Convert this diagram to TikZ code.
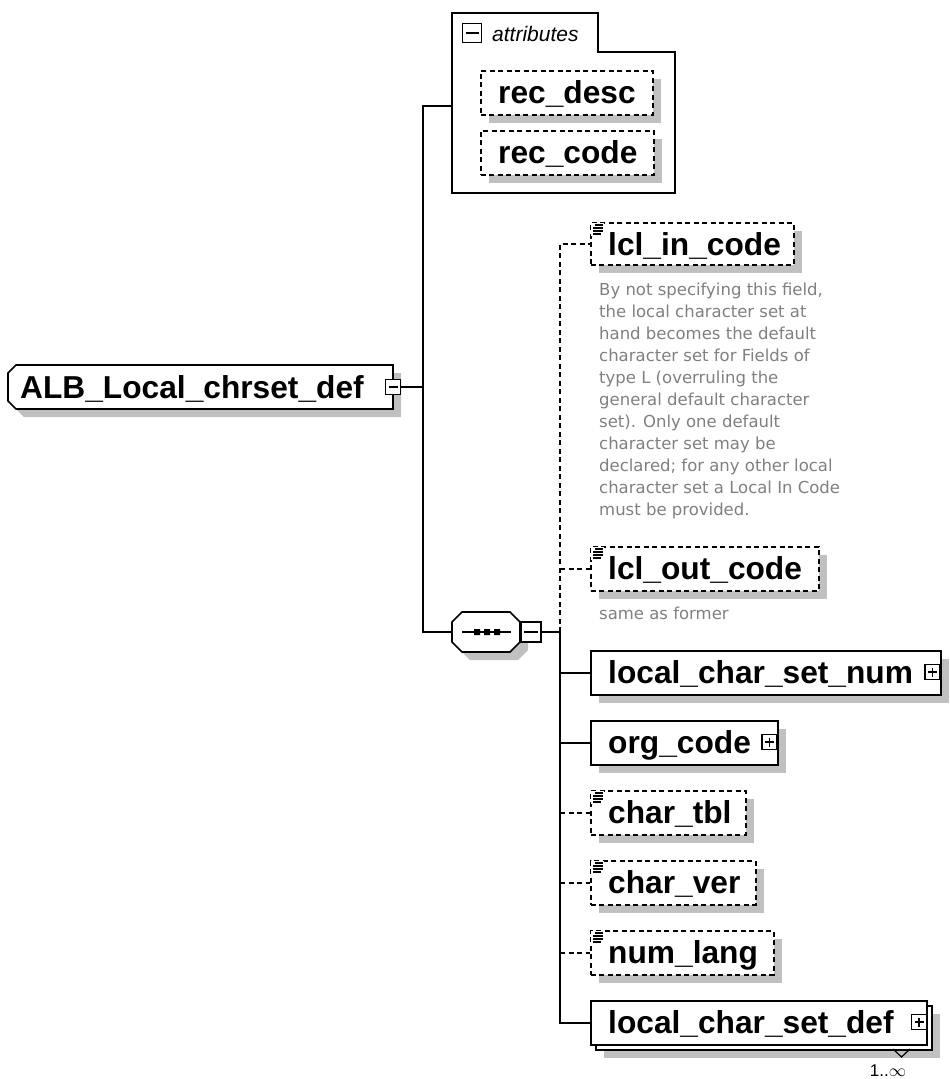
\documentclass[tikz,border=0pt]{standalone}
\usepackage{fontspec}
\setmainfont{Liberation Sans}
\newfontfamily\annfont{DejaVu Sans}
\definecolor{shadowgray}{RGB}{192,192,192}
\definecolor{anngray}{RGB}{128,128,128}
\usetikzlibrary{shadows}
\tikzset{
  conn/.style={line width=1.6pt},
  optconn/.style={line width=1.6pt, dash pattern=on 5pt off 3.5pt},
  elbox/.style={draw, line width=1.6pt, fill=white, rectangle, inner sep=0pt, anchor=north west,
     general shadow={shadow xshift=8pt, shadow yshift=-8pt, fill=shadowgray}},
  optbox/.style={elbox, dash pattern=on 5pt off 3.5pt},
  elname/.style={font=\fontsize{31.7}{32}\selectfont\bfseries, anchor=base west, inner sep=0pt},
  ann/.style={font=\annfont\fontsize{16.5}{22}\selectfont, text=anngray, anchor=north west, align=left, inner sep=0pt},
  pmbox/.style={draw, line width=1.3pt, fill=white, rectangle, minimum size=15pt, inner sep=0pt},
  minusbox/.style={pmbox, path picture={\draw[line width=1.3pt] ([xshift=3pt]path picture bounding box.west) -- ([xshift=-3pt]path picture bounding box.east);}},
  plusbox/.style={pmbox, path picture={\draw[line width=1.3pt] ([xshift=3pt]path picture bounding box.west) -- ([xshift=-3pt]path picture bounding box.east) ([yshift=-3pt]path picture bounding box.north) -- ([yshift=3pt]path picture bounding box.south);}},
  simpleicon/.pic={\fill[white] (0,0) rectangle (13,13);
     \draw[line width=1.3pt] (4,2)--(12,2) (2,5)--(12,5) (2,8)--(12,8) (2,11)--(10,11);},
}
\begin{document}
\begin{tikzpicture}[x=1pt,y=-1pt]
\useasboundingbox[fill=white] (0,0) rectangle (950,1079);

% ---------- root element ----------
\def\rootpath{(16,365) -- (393,365) -- (393,409) -- (16,409) -- (8,401) -- (8,373) -- cycle}
\fill[shadowgray, shift={(8,8)}] \rootpath;
\draw[conn, fill=white] \rootpath;
\node[elname] (root) at (20,398) {ALB\_Local\_chrset\_def};
\node[minusbox] (rootpm) at (393,387) {};

% ---------- attributes ----------
\draw[conn, fill=white] (452,13) -- (598,13) -- (598,52) -- (675,52) -- (675,193) -- (452,193) -- cycle;
\coordinate (attrw) at (452,106);
\node[minusbox, minimum size=19pt] (attrpm) at (472,33) {};
\node[font=\fontsize{21}{21}\selectfont\itshape, anchor=base west, inner sep=0pt] (attrt) at (492,41) {attributes};
\node[optbox, minimum width=172pt, minimum height=44pt] (rd) at (480,70) {};
\node[elname] (rdt) at (498,103) {rec\_desc};
\node[optbox, minimum width=173pt, minimum height=44pt] (rc) at (480,130) {};
\node[elname] (rct) at (498,163) {rec\_code};

% ---------- sequence ----------
\def\seqpath{(462,612) -- (510,612) -- (520,622) -- (520,642) -- (510,652) -- (462,652) -- (452,642) -- (452,622) -- cycle}
\fill[shadowgray, shift={(8,8)}] \seqpath;
\draw[conn, fill=white] \seqpath;
\coordinate (seqw) at (452,632);
\draw[line width=1.4pt] (462,632) -- (511,632);
\fill (474,629) rectangle (480,635) (484,629) rectangle (490,635) (494,629) rectangle (500,635);
\node[minusbox, minimum size=20pt] (seqpm) at (531,632) {};

% hub connectors from root
\coordinate (hub) at (423,387);
\draw[conn] (rootpm.east) -- (hub);
\draw[conn] (attrw) -| (hub) |- (seqw);

% ---------- children ----------
\node[optbox, minimum width=203pt, minimum height=42pt] (lin) at (590,222) {};
\node[elname] (lint) at (608,255) {lcl\_in\_code};
\pic at (591,223) {simpleicon};
\node[ann] (linann) at (599,283) {By not specifying this field,\\the local character set at\\hand becomes the default\\character set for Fields of\\type L (overruling the\\general default character\\set). Only one default\\character set may be\\declared; for any other local\\character set a Local In Code\\must be provided.};

\node[optbox, minimum width=228pt, minimum height=44pt] (lout) at (590,546) {};
\node[elname] (loutt) at (608,579) {lcl\_out\_code};
\pic at (591,547) {simpleicon};
\node[ann] (loutann) at (599,607) {same as former};

\node[elbox, minimum width=350pt, minimum height=44pt] (lcsn) at (590,650) {};
\node[elname] (lcsnt) at (608,683) {local\_char\_set\_num};
\node[plusbox] (lcsnpm) at (932.5,672) {};

\node[elbox, minimum width=187pt, minimum height=44pt] (org) at (590,720) {};
\node[elname] (orgt) at (608,753) {org\_code};
\node[plusbox] (orgpm) at (769.5,742) {};

\node[optbox, minimum width=155pt, minimum height=44pt] (ctbl) at (590,790) {};
\node[elname] (ctblt) at (608,823) {char\_tbl};
\pic at (591,791) {simpleicon};

\node[optbox, minimum width=165pt, minimum height=44pt] (cver) at (590,860) {};
\node[elname] (cvert) at (608,893) {char\_ver};
\pic at (591,861) {simpleicon};

\node[optbox, minimum width=183pt, minimum height=44pt] (nlang) at (590,930) {};
\node[elname] (nlangt) at (608,963) {num\_lang};
\pic at (591,931) {simpleicon};

\node[elbox, minimum width=336pt, minimum height=44pt] (lcsdb) at (595,1005) {};
\node[draw, line width=1.6pt, fill=white, rectangle, inner sep=0pt, anchor=north west, minimum width=336pt, minimum height=44pt] (lcsd) at (590,1000) {};
\node[elname] (lcsdt) at (608,1033) {local\_char\_set\_def};
\node[plusbox] (lcsdpm) at (919,1022) {};
\draw[line width=1.2pt] (893,1049) -- (901.5,1057) -- (910,1049);
\node[font=\fontsize{17}{17}\selectfont, anchor=base, inner sep=0pt] (mult) at (888,1076) {1..\(\infty\)};

% bus
\coordinate (bus) at (560,632);
\draw[conn] (seqpm.east) -- (bus);
\draw[optconn] (bus) |- (lin.west);
\draw[optconn] (lout.west -| bus) -- (lout.west);
\draw[optconn] (ctbl.west -| bus) -- (ctbl.west);
\draw[optconn] (cver.west -| bus) -- (cver.west);
\draw[optconn] (nlang.west -| bus) -- (nlang.west);
\draw[conn] (bus) |- (lcsd.west);
\draw[conn] (lcsn.west -| bus) -- (lcsn.west);
\draw[conn] (org.west -| bus) -- (org.west);
\end{tikzpicture}
\end{document}
